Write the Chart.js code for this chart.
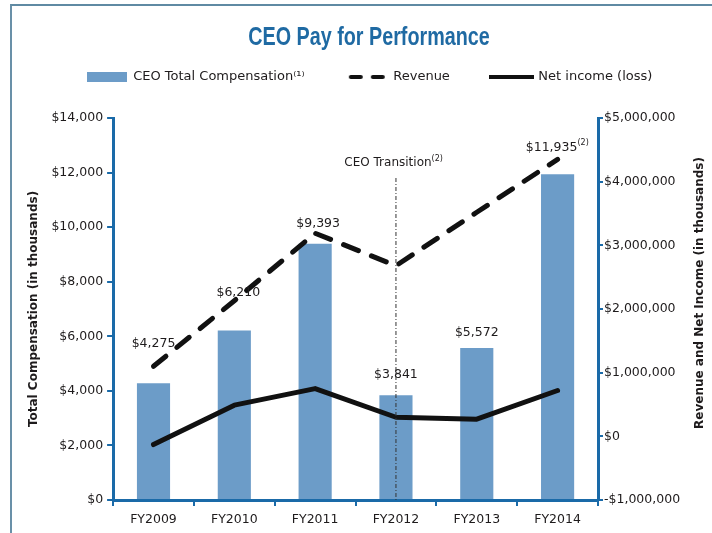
<!DOCTYPE html>
<html>
<head>
<meta charset="utf-8">
<script src="https://cdn.jsdelivr.net/npm/chart.js@4/dist/chart.umd.min.js"></script>
<style>
  html, body { margin: 0; padding: 0; background: #fff; }
  #wrap { position: relative; width: 712px; height: 533px; overflow: hidden; }
  #frame { position: absolute; left: 10px; top: 4px; width: 720px; height: 560px; border-left: 2px solid #6990a8; border-top: 2px solid #5f8aa3; pointer-events: none; }
</style>
</head>
<body>
<div id="wrap">
  <canvas id="chart" width="712" height="533"></canvas>
  <div id="frame"></div>
</div>
<script>
const years = ['FY2009', 'FY2010', 'FY2011', 'FY2012', 'FY2013', 'FY2014'];
const ceoPay = [4275, 6210, 9393, 3841, 5572, 11935];          // $ thousands
const revenue = [1100000, 2130000, 3190000, 2680000, 3520000, 4350000];
const netIncome = [-130000, 490000, 750000, 300000, 270000, 720000];
const payTicks = [0, 2000, 4000, 6000, 8000, 10000, 12000, 14000];
const finTicks = [-1000000, 0, 1000000, 2000000, 3000000, 4000000, 5000000];
const transitionYear = 'FY2012';

const blue = '#1a6aa8';
const barBlue = '#6c9cc8';
const ink = '#1e1b1c';
const fontFam = "'DejaVu Sans', 'Liberation Sans', sans-serif";

const money = v => (v < 0 ? '-' : '') + '$' + Math.abs(v).toLocaleString('en-US');

// little pictures for the legend
function swatch(w, h, draw) {
  const c = document.createElement('canvas');
  c.width = w; c.height = h;
  draw(c.getContext('2d'));
  return c;
}
const barSwatch = swatch(40, 10, g => { g.fillStyle = barBlue; g.fillRect(0, 0, 40, 10); });
const dashSwatch = swatch(38, 6, g => {
  g.strokeStyle = '#111'; g.lineWidth = 4; g.lineCap = 'round';
  g.setLineDash([10, 12]);
  g.beginPath(); g.moveTo(3, 3); g.lineTo(36, 3); g.stroke();
});
const lineSwatch = swatch(45, 6, g => {
  g.strokeStyle = '#111'; g.lineWidth = 4;
  g.beginPath(); g.moveTo(0, 3); g.lineTo(45, 3); g.stroke();
});

function supText(ctx, txt, sup, x, y, size) {
  ctx.font = size + 'px ' + fontFam;
  const w = ctx.measureText(txt).width;
  ctx.textAlign = 'center';
  ctx.fillText(txt, x, y);
  ctx.font = '8px ' + fontFam;
  ctx.textAlign = 'left';
  ctx.fillText(sup, x + w / 2, y - 4);
  ctx.textAlign = 'center';
}

// title, value labels over the bars, CEO transition marker, right axis title
const labelLift = [40, 38, 20, 20, 15, 27];
const notes = {
  id: 'notes',
  afterDatasetsDraw(chart) {
    const ctx = chart.ctx;
    const bars = chart.getDatasetMeta(0).data;
    const area = chart.chartArea;
    ctx.save();
    ctx.fillStyle = ink;
    ctx.textAlign = 'center';
    ctx.textBaseline = 'middle';
    bars.forEach((b, i) => {
      const txt = money(ceoPay[i]);
      if (i === 5) {
        supText(ctx, txt, '(2)', b.x - 6, b.y - labelLift[i], 12.5);
      } else {
        ctx.font = '12.5px ' + fontFam;
        ctx.fillText(txt, b.x + (i === 1 ? 4 : 0) + (i === 2 ? 3 : 0), b.y - labelLift[i]);
      }
    });

    const x = chart.scales.x.getPixelForValue(years.indexOf(transitionYear));
    ctx.strokeStyle = '#333';
    ctx.lineWidth = 1;
    ctx.setLineDash([4, 2, 1, 2]);
    ctx.beginPath();
    ctx.moveTo(x, 178);
    ctx.lineTo(x, area.bottom);
    ctx.stroke();
    ctx.setLineDash([]);
    supText(ctx, 'CEO Transition', '(2)', x - 8, 163, 12);

    // right axis title, reading bottom to top
    const r = chart.scales.y1;
    ctx.save();
    ctx.translate(r.right - 12, (area.top + area.bottom) / 2 - 16);
    ctx.rotate(-Math.PI / 2);
    ctx.font = 'bold 12px ' + fontFam;
    ctx.fillText('Revenue and Net Income (in thousands)', 0, 0);
    ctx.restore();

    // main title, condensed
    ctx.save();
    ctx.translate(369, 38);
    ctx.scale(0.79, 1);
    ctx.fillStyle = '#1f6aa3';
    ctx.font = "bold 25px 'Liberation Sans', Arial, sans-serif";
    ctx.fillText('CEO Pay for Performance', 0, 0);
    ctx.restore();
    ctx.restore();
  }
};

new Chart(document.getElementById('chart'), {
  type: 'bar',
  data: {
    labels: years,
    datasets: [
      {
        label: 'CEO Total Compensation⁽¹⁾',
        data: ceoPay,
        backgroundColor: barBlue,
        yAxisID: 'y',
        barPercentage: 0.41,
        categoryPercentage: 1,
        order: 3
      },
      {
        type: 'line',
        label: 'Revenue',
        data: revenue,
        yAxisID: 'y1',
        borderColor: '#111',
        borderWidth: 5,
        borderDash: [16, 14],
        borderCapStyle: 'round',
        pointRadius: 0,
        tension: 0,
        order: 2
      },
      {
        type: 'line',
        label: 'Net income (loss)',
        data: netIncome,
        yAxisID: 'y1',
        borderColor: '#111',
        borderWidth: 5,
        borderJoinStyle: 'round',
        borderCapStyle: 'round',
        pointRadius: 0,
        tension: 0,
        order: 1
      }
    ]
  },
  options: {
    responsive: false,
    animation: false,
    layout: { padding: { left: 27, right: 0, top: 28.5, bottom: 0 } },
    font: { family: fontFam },
    plugins: {
      title: { display: false },
      subtitle: {
        // empty spacer between the legend and the plot
        display: true,
        text: ' ',
        weight: 500,
        font: { size: 10 },
        padding: { top: 12.5, bottom: 0 }
      },
      legend: {
        display: true,
        labels: {
          usePointStyle: true,
          pointStyleWidth: 40,
          padding: 42,
          color: ink,
          font: { family: fontFam, size: 13 },
          generateLabels: chart => chart.data.datasets.map((ds, i) => ({
            text: ds.label,
            pointStyle: [barSwatch, dashSwatch, lineSwatch][i],
            fillStyle: 'transparent',
            strokeStyle: 'transparent',
            lineWidth: 0,
            fontColor: ink,
            datasetIndex: i
          }))
        }
      },
      tooltip: { enabled: false }
    },
    scales: {
      x: {
        grid: { drawOnChartArea: false, tickLength: 6, tickColor: blue, lineWidth: 2, offset: true },
        border: { color: blue, width: 3 },
        ticks: { color: ink, font: { family: fontFam, size: 12.5 }, padding: 6 }
      },
      y: {
        position: 'left',
        min: 0,
        max: 14000,
        afterBuildTicks: s => { s.ticks = payTicks.map(v => ({ value: v })); },
        grid: { drawOnChartArea: false, tickLength: 6, tickColor: blue, lineWidth: 2 },
        border: { color: blue, width: 3 },
        ticks: { color: ink, font: { family: fontFam, size: 12.5 }, padding: 4, callback: v => money(v) },
        title: {
          display: true,
          text: 'Total Compensation (in thousands)',
          color: ink,
          font: { family: fontFam, size: 12, weight: 'bold' },
          padding: { top: 0, bottom: 6 }
        }
      },
      y1: {
        position: 'right',
        min: -1000000,
        max: 5000000,
        afterBuildTicks: s => { s.ticks = finTicks.map(v => ({ value: v })); },
        afterFit: s => { s.width = 114; },
        grid: { drawOnChartArea: false, tickLength: 5, tickColor: blue, lineWidth: 2 },
        border: { color: blue, width: 3 },
        ticks: { color: ink, font: { family: fontFam, size: 12.5 }, padding: 1, callback: v => money(v) }
      }
    }
  },
  plugins: [notes]
});
</script>
</body>
</html>
